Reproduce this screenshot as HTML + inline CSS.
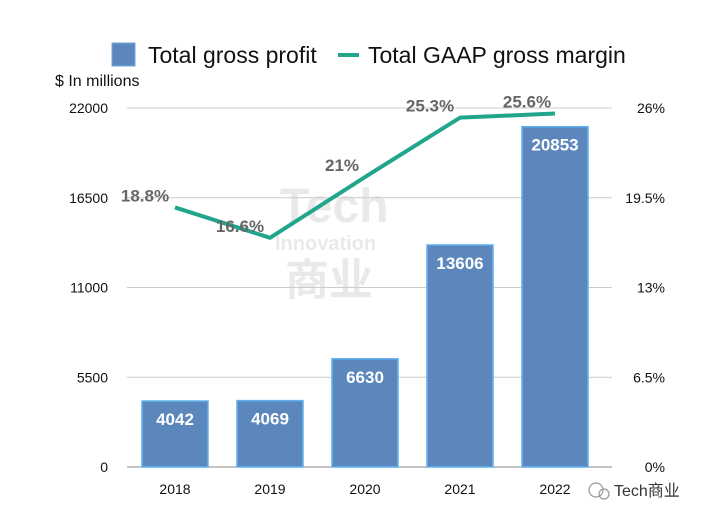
<!DOCTYPE html>
<html><head><meta charset="utf-8"><style>
body{margin:0;background:#fff;font-family:"Liberation Sans","Noto Sans CJK SC",sans-serif}
svg text{font-family:"Liberation Sans","Noto Sans CJK SC",sans-serif}
</style></head><body>
<svg id="c" width="706" height="522" viewBox="0 0 706 522">
<g opacity="0.18">
<text x="280" y="222" font-size="48" font-weight="bold" fill="#888" font-family="Liberation Serif,serif">Tech</text>
<text x="275" y="250" font-size="20" font-weight="bold" fill="#888">Innovation</text>
<text x="285" y="295" font-size="44" font-weight="bold" fill="#888">商业</text>
</g>
<g id="grid"></g><g id="bars"></g><g id="line"></g><g id="labels"></g>
<g>
<rect x="112" y="43" width="23" height="23" fill="#5b87bd" stroke="#6fa8dc" stroke-width="1"/>
<text x="148" y="63" font-size="23" fill="#111">Total gross profit</text>
<line x1="338" y1="55" x2="359" y2="55" stroke="#21a68b" stroke-width="4"/>
<text x="368" y="63" font-size="23" fill="#111">Total GAAP gross margin</text>
</g>
<text x="55" y="86" font-size="16" fill="#111">$ In millions</text>
<g>
<circle cx="596" cy="490" r="7" fill="none" stroke="#999" stroke-width="1.2"/>
<circle cx="604" cy="494" r="5" fill="none" stroke="#999" stroke-width="1.2"/>
<text x="614" y="496" font-size="16" fill="#333">Tech商业</text>
</g>
</svg>
<script>
const years=["2018","2019","2020","2021","2022"];
const profit=[4042,4069,6630,13606,20853];
const margin=[18.8,16.6,21,25.3,25.6];
const marginLabels=["18.8%","16.6%","21%","25.3%","25.6%"];
const leftTicks=[0,5500,11000,16500,22000];
const rightTicks=["0%","6.5%","13%","19.5%","26%"];
const rightTickVals=[0,6.5,13,19.5,26];
const NS="http://www.w3.org/2000/svg";
const x0=127,x1=612,yb=467,yt=108;
const yL=v=>yb-(v/22000)*(yb-yt);
const yR=v=>yb-(v/26)*(yb-yt);
const step=95;
const xc=i=>175+step*i;
function mk(p,t,a){const e=document.createElementNS(NS,t);for(const k in a)e.setAttribute(k,a[k]);p.appendChild(e);return e;}
const G=document.getElementById('grid'),B=document.getElementById('bars'),L=document.getElementById('line'),T=document.getElementById('labels');
leftTicks.forEach((v,i)=>{
 const l=mk(G,'line',{x1:x0,x2:x1,y1:yL(v),y2:yL(v),stroke:i==0?'#888':'#ccc','stroke-width':1});
 
 
 const t=mk(G,'text',{x:108,y:yL(v)+5,'text-anchor':'end','font-size':14,fill:'#111'});t.textContent=v;
 
 
});
rightTickVals.forEach((v,i)=>{
 const t=mk(G,'text',{x:665,y:yR(v)+5,'text-anchor':'end','font-size':14,fill:'#111'});t.textContent=rightTicks[i];
 
 
});
years.forEach((y,i)=>{
 const w=66,h=yb-yL(profit[i]);
 const r=mk(B,'rect',{x:xc(i)-w/2,y:yL(profit[i]),width:w,height:h,fill:'#5b87bd',stroke:'#5fb0f0','stroke-width':1.5});
 
 
 const v=mk(T,'text',{x:xc(i),y:yL(profit[i])+24,'text-anchor':'middle','font-size':17,'font-weight':'bold',fill:'#fff'});v.textContent=profit[i];
 
 
 const t=mk(T,'text',{x:xc(i),y:494,'text-anchor':'middle','font-size':14,fill:'#111'});t.textContent=y;
 
 
});
const pl=mk(L,'polyline',{points:margin.map((m,i)=>xc(i)+','+yR(m)).join(' '),fill:'none',stroke:'#21a68b','stroke-width':4,'stroke-linejoin':'round'});


const off=[-30,-30,-23,-30,-28];
margin.forEach((m,i)=>{
 const t=mk(T,'text',{x:xc(i)+off[i],y:yR(m)-6,'text-anchor':'middle','font-size':17,'font-weight':'bold',fill:'#666'});t.textContent=marginLabels[i];
 
 
});
</script>
</body></html>
